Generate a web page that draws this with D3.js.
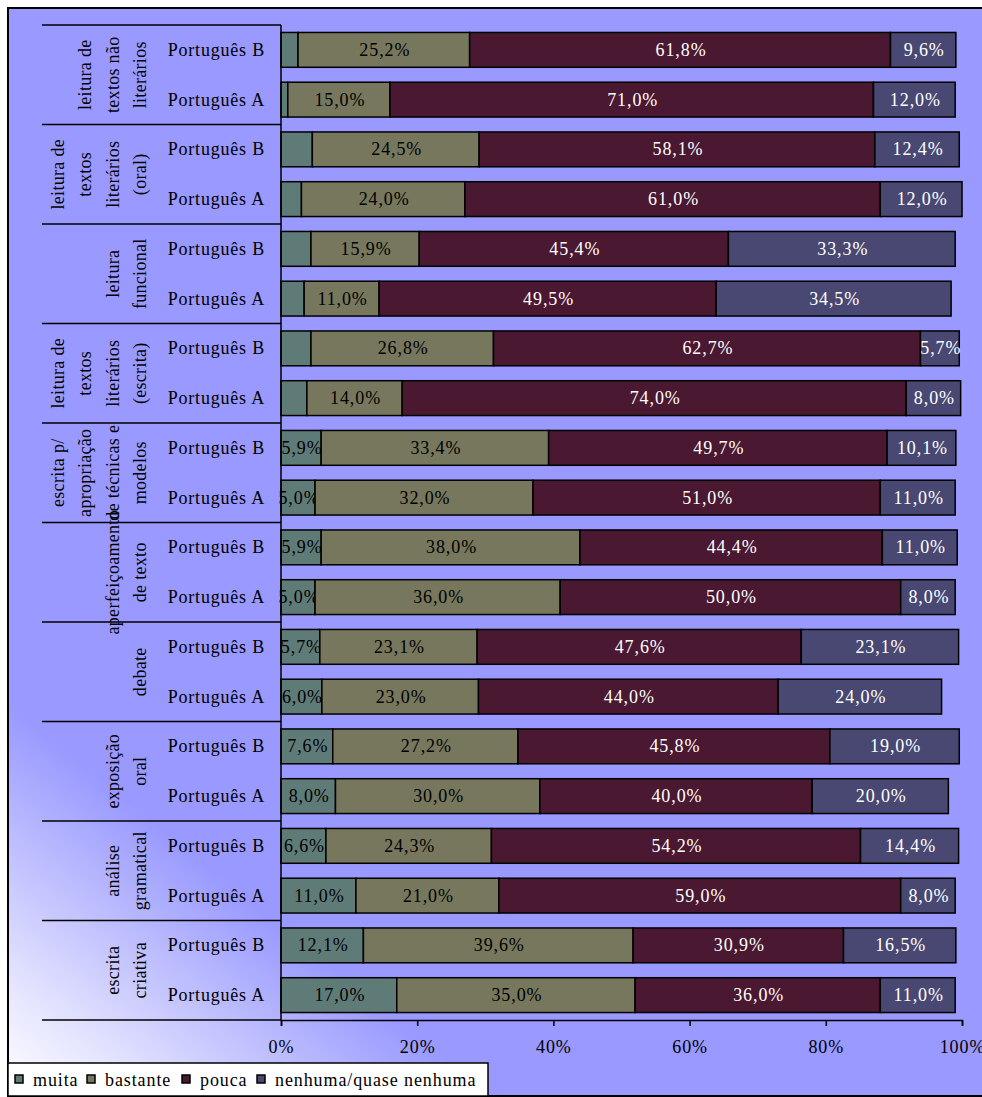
<!DOCTYPE html>
<html>
<head>
<meta charset="utf-8">
<script src="https://cdn.jsdelivr.net/npm/d3@7"></script>
<style>
  body { margin: 0; background: #fff; }
  text { font-family: "Liberation Serif", "Times New Roman", serif; }
</style>
</head>
<body>
<div id="chart"></div>
<script>
// categorias (de cima para baixo)
var groupLines = [
    ["leitura de", "textos não", "literários"],
    ["leitura de", "textos", "literários", "(oral)"],
    ["leitura", "funcional"],
    ["leitura de", "textos", "literários", "(escrita)"],
    ["escrita p/", "apropriação", "de técnicas e", "modelos"],
    ["aperfeiçoamento", "de texto"],
    ["debate"],
    ["exposição", "oral"],
    ["análise", "gramatical"],
    ["escrita", "criativa"]
];
var subGroups = ["Português B", "Português A"];
var seriesNames = ["muita", "bastante", "pouca", "nenhuma/quase nenhuma"];

// valores (%) na ordem: grupo1 B, grupo1 A, grupo2 B, ...
var muita    = [2.5, 1.0, 4.6, 3.0, 4.4, 3.4, 4.4, 3.8, 5.9, 5.0, 5.9, 5.0, 5.7, 6.0, 7.6, 8.0, 6.6, 11.0, 12.1, 17.0];
var bastante = [25.2, 15.0, 24.5, 24.0, 15.9, 11.0, 26.8, 14.0, 33.4, 32.0, 38.0, 36.0, 23.1, 23.0, 27.2, 30.0, 24.3, 21.0, 39.6, 35.0];
var pouca    = [61.8, 71.0, 58.1, 61.0, 45.4, 49.5, 62.7, 74.0, 49.7, 51.0, 44.4, 50.0, 47.6, 44.0, 45.8, 40.0, 54.2, 59.0, 30.9, 36.0];
var nenhuma  = [9.6, 12.0, 12.4, 12.0, 33.3, 34.5, 5.7, 8.0, 10.1, 11.0, 11.0, 8.0, 23.1, 24.0, 19.0, 20.0, 14.4, 8.0, 16.5, 11.0];
var ticks = [0, 20, 40, 60, 80, 100];

var colors = ["#5f7b78", "#76775c", "#4a1830", "#484873"];
var textColors = ["#000", "#000", "#fff", "#fff"];

var width = 982, height = 1097;
var plot = { left: 281, right: 962, top: 25, bottom: 1020 };

// tabela para o d3.stack
var rows = [];
groupLines.forEach(function(g, gi) {
    subGroups.forEach(function(s, si) {
        var i = gi * 2 + si;
        rows.push({ key: i, group: gi, sub: s,
            "muita": muita[i], "bastante": bastante[i],
            "pouca": pouca[i], "nenhuma/quase nenhuma": nenhuma[i] });
    });
});

var svg = d3.select("#chart").append("svg")
    .attr("width", width)
    .attr("height", height);

// fundo com gradiente (branco no canto inferior esquerdo)
var grad = svg.append("defs").append("linearGradient")
    .attr("id", "bg")
    .attr("gradientUnits", "userSpaceOnUse")
    .attr("x1", 8).attr("y1", 1096)
    .attr("x2", 200).attr("y2", 860);
grad.append("stop").attr("offset", 0).attr("stop-color", "#ffffff");
grad.append("stop").attr("offset", 0.3).attr("stop-color", "#e4e4ff");
grad.append("stop").attr("offset", 1).attr("stop-color", "#9999ff");

svg.append("rect")
    .attr("x", 8).attr("y", 8)
    .attr("width", 990).attr("height", 1088)
    .attr("fill", "url(#bg)")
    .attr("stroke", "#000")
    .attr("stroke-width", 2);

var x = d3.scaleLinear().domain([0, 100]).range([plot.left, plot.right]);
var y = d3.scaleBand()
    .domain(rows.map(function(d) { return d.key; }))
    .range([plot.top, plot.bottom])
    .paddingInner(0.3)
    .paddingOuter(0.15);
var groupStep = (plot.bottom - plot.top) / groupLines.length;

var stack = d3.stack().keys(seriesNames);
var layers = stack(rows);

var layer = svg.selectAll(".layer")
    .data(layers)
    .enter().append("g")
    .attr("class", "layer");

layer.selectAll("rect")
    .data(function(d) { return d; })
    .enter().append("rect")
    .attr("x", function(d) { return x(d[0]); })
    .attr("y", function(d) { return y(d.data.key); })
    .attr("width", function(d) { return x(d[1]) - x(d[0]); })
    .attr("height", y.bandwidth())
    .attr("fill", function(d, i, nodes) { return colors[d3.select(nodes[i].parentNode).datum().index]; })
    .attr("stroke", "#000")
    .attr("stroke-width", 1.5);

// rótulos de dados
layer.selectAll("text")
    .data(function(d) { return d.map(function(p) { p.si = d.index; return p; }); })
    .enter().append("text")
    .filter(function(d) { return d[1] - d[0] >= 5; })
    .attr("x", function(d) { return (x(d[0]) + x(d[1])) / 2 + 1; })
    .attr("y", function(d) { return y(d.data.key) + y.bandwidth() / 2 + 6; })
    .attr("text-anchor", "middle")
    .attr("font-size", 18)
    .attr("letter-spacing", 0.9)
    .attr("fill", function(d) { return textColors[d.si]; })
    .text(function(d) { return d3.format(".1f")(d[1] - d[0]).replace(".", ",") + "%"; });

// eixo das categorias
svg.append("line")
    .attr("x1", plot.left).attr("x2", plot.left)
    .attr("y1", plot.top).attr("y2", plot.bottom)
    .attr("stroke", "#000").attr("stroke-width", 1.5);

svg.selectAll(".sep")
    .data(d3.range(groupLines.length + 1))
    .enter().append("line")
    .attr("x1", 42).attr("x2", plot.left)
    .attr("y1", function(d) { return plot.top + d * groupStep; })
    .attr("y2", function(d) { return plot.top + d * groupStep; })
    .attr("stroke", "#000").attr("stroke-width", 1.5);

svg.selectAll(".sub")
    .data(rows)
    .enter().append("text")
    .attr("x", 265)
    .attr("y", function(d) { return y(d.key) + y.bandwidth() / 2 + 6; })
    .attr("text-anchor", "end")
    .attr("font-size", 18)
    .attr("letter-spacing", 0.8)
    .text(function(d) { return d.sub; });

// nomes dos grupos (texto vertical)
groupLines.forEach(function(lines, gi) {
    var cy = plot.top + (gi + 0.5) * groupStep;
    var n = lines.length;
    lines.forEach(function(line, li) {
        var cx = 140 - (n - 1 - li) * 27.3;
        svg.append("text")
            .attr("transform", "translate(" + (cx + 6) + "," + cy + ") rotate(-90)")
            .attr("text-anchor", "middle")
            .attr("font-size", 18)
            .attr("letter-spacing", 0.3)
            .text(line);
    });
});

// eixo dos valores
var axis = d3.axisBottom(x)
    .tickValues(ticks)
    .tickFormat(function(d) { return d + "%"; })
    .tickSize(6)
    .tickPadding(14);

var gx = svg.append("g")
    .attr("transform", "translate(0," + plot.bottom + ")")
    .call(axis);
gx.select(".domain").attr("stroke", "#000").attr("stroke-width", 1.5);
gx.selectAll(".tick line").attr("stroke", "#000").attr("stroke-width", 1.5);
gx.selectAll(".tick text")
    .attr("font-size", 18)
    .attr("letter-spacing", 0.9)
    .attr("fill", "#000");

// legenda
var legend = svg.append("g");
legend.append("rect")
    .attr("x", 8).attr("y", 1063)
    .attr("width", 480).attr("height", 33)
    .attr("fill", "#fff")
    .attr("stroke", "#000")
    .attr("stroke-width", 1.5);

var legendX = [15, 87, 182, 257];
seriesNames.forEach(function(name, i) {
    legend.append("rect")
        .attr("x", legendX[i]).attr("y", 1075)
        .attr("width", 8).attr("height", 8)
        .attr("fill", colors[i])
        .attr("stroke", "#000")
        .attr("stroke-width", 1.5);
    legend.append("text")
        .attr("x", legendX[i] + 18)
        .attr("y", 1086)
        .attr("font-size", 18)
        .attr("letter-spacing", 0.9)
        .text(name);
});
</script>
</body>
</html>
